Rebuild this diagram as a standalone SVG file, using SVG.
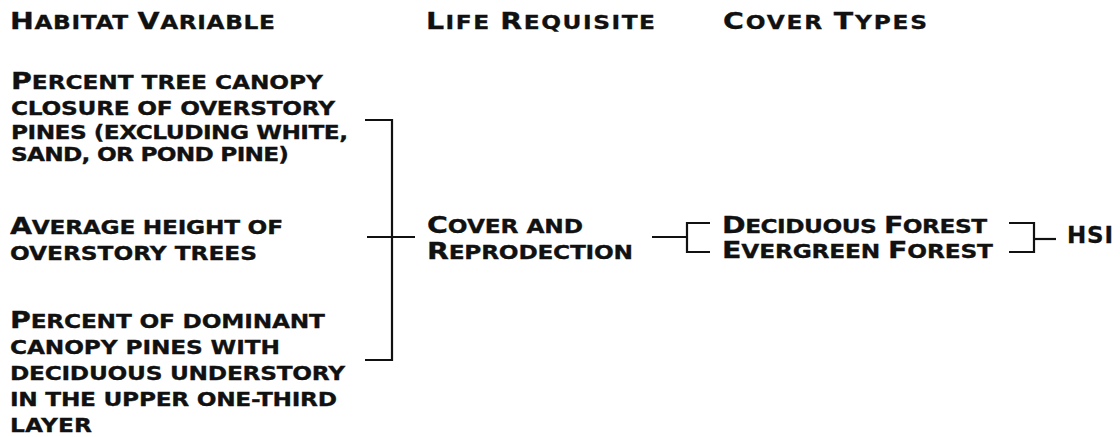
<svg xmlns="http://www.w3.org/2000/svg" width="1120" height="437" viewBox="0 0 1120 437">
<style>
.t{font-family:"DejaVu Sans","Liberation Sans",sans-serif;font-weight:bold;font-size:18.8px;fill:#111;stroke:#111;stroke-width:0.3}
.c{font-size:23px}
.ln{fill:none;stroke:#111;stroke-width:2.2}
</style>
<rect width="1120" height="437" fill="#fff"/>
<g id="headers" transform="scale(1.24,1)">
<text class="t" x="8.06" y="29" textLength="213.7" lengthAdjust="spacing"><tspan class="c">H</tspan>ABITAT <tspan class="c">V</tspan>ARIABLE</text>
<text class="t" x="343.5" y="29" textLength="184.7" lengthAdjust="spacing"><tspan class="c">L</tspan>IFE <tspan class="c">R</tspan>EQUISITE</text>
<text class="t" x="583.1" y="29" textLength="164.5" lengthAdjust="spacing"><tspan class="c">C</tspan>OVER <tspan class="c">T</tspan>YPES</text>
</g>
<g id="var-canopy-closure" transform="scale(1.24,1)">
<text class="t" x="8.87" y="89" textLength="251.6" lengthAdjust="spacing"><tspan class="c">P</tspan>ERCENT TREE CANOPY</text>
<text class="t" x="8.87" y="115" textLength="261.3" lengthAdjust="spacing">CLOSURE OF OVERSTORY</text>
<text class="t" x="8.87" y="139" textLength="271.8" lengthAdjust="spacing">PINES (EXCLUDING WHITE,</text>
<text class="t" x="8.87" y="161" textLength="224.2" lengthAdjust="spacing">SAND, OR POND PINE)</text>
</g>
<g id="var-height" transform="scale(1.24,1)">
<text class="t" x="8.06" y="234" textLength="220.2" lengthAdjust="spacing"><tspan class="c">A</tspan>VERAGE HEIGHT OF</text>
<text class="t" x="8.06" y="260" textLength="199.2" lengthAdjust="spacing">OVERSTORY TREES</text>
</g>
<g id="var-understory" transform="scale(1.24,1)">
<text class="t" x="8.06" y="328" textLength="254" lengthAdjust="spacing"><tspan class="c">P</tspan>ERCENT OF DOMINANT</text>
<text class="t" x="8.06" y="354" textLength="217.7" lengthAdjust="spacing">CANOPY PINES WITH</text>
<text class="t" x="8.06" y="380" textLength="270.2" lengthAdjust="spacing">DECIDUOUS UNDERSTORY</text>
<text class="t" x="8.06" y="406" textLength="263.7" lengthAdjust="spacing">IN THE UPPER ONE-THIRD</text>
<text class="t" x="8.06" y="432" textLength="66.1" lengthAdjust="spacing">LAYER</text>
</g>
<g id="life-requisite" transform="scale(1.24,1)">
<text class="t" x="344.4" y="233" textLength="125.8" lengthAdjust="spacing"><tspan class="c">C</tspan>OVER AND</text>
<text class="t" x="344.4" y="259" textLength="166.1" lengthAdjust="spacing"><tspan class="c">R</tspan>EPRODECTION</text>
</g>
<g id="cover-types" transform="scale(1.24,1)">
<text class="t" x="582.3" y="233" textLength="213.7" lengthAdjust="spacing"><tspan class="c">D</tspan>ECIDUOUS <tspan class="c">F</tspan>OREST</text>
<text class="t" x="582.3" y="258" textLength="218.5" lengthAdjust="spacing"><tspan class="c">E</tspan>VERGREEN <tspan class="c">F</tspan>OREST</text>
</g>
<g id="hsi">
<text class="t" x="1067" y="243" textLength="46" lengthAdjust="spacing"><tspan class="c">HSI</tspan></text>
</g>
<g id="connectors">
<path class="ln" d="M365,120 H392 V360 H365"/>
<path class="ln" d="M367,237 H415"/>
<path class="ln" d="M652,237 H687"/>
<path class="ln" d="M710,223 H687 V252 H710"/>
<path class="ln" d="M1009,223 H1034 V252 H1009"/>
<path class="ln" d="M1034,239 H1056"/>
</g>
</svg>
